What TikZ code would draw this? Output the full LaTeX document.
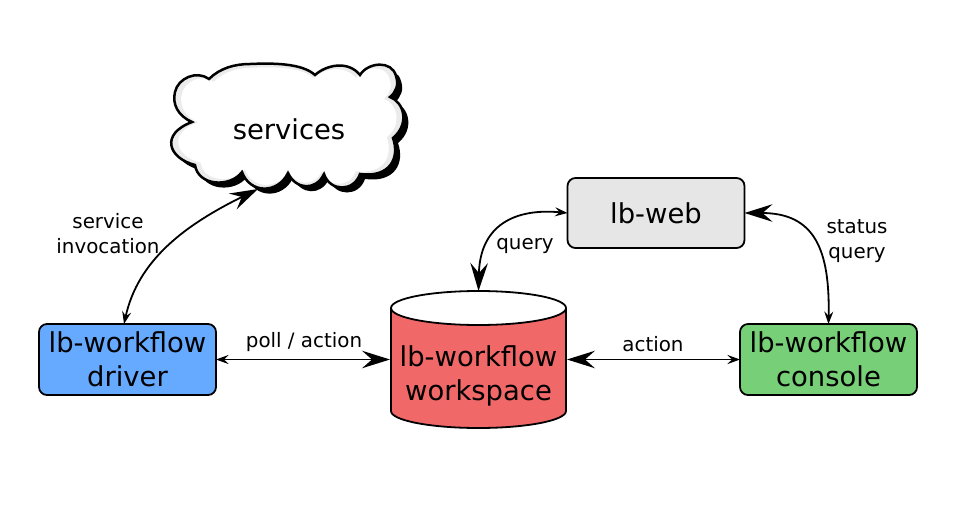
\documentclass[tikz,border=0pt]{standalone}
\usepackage{fontspec}
\setmainfont{DejaVu Sans}
\usetikzlibrary{arrows.meta}
\definecolor{drivercol}{HTML}{66AAFF}
\definecolor{workcol}{HTML}{F16868}
\definecolor{consolecol}{HTML}{77D077}
\definecolor{webcol}{HTML}{E6E6E6}
\definecolor{cloudcol}{HTML}{EBEBEB}
\newcommand{\cloudline}{(192,122) .. controls (178,116) and (172,104) .. (175,92)
	.. controls (178,78) and (197,70) .. (209,79)
	.. controls (220,68) and (235,64) .. (250,64)
	.. controls (272,63) and (302,63) .. (315,75)
	.. controls (326,65) and (348,60) .. (360,75)
	.. controls (368,62) and (392,60) .. (396,76)
	.. controls (399,85) and (396,92) .. (390,97)
	.. controls (404,102) and (410,124) .. (393,138)
	.. controls (400,158) and (390,178) .. (360,174)
	.. controls (354,192) and (330,192) .. (324,174)
	.. controls (316,191) and (296,190) .. (288,173)
	.. controls (278,194) and (250,194) .. (242,172)
	.. controls (230,188) and (198,186) .. (195,165)
	.. controls (168,158) and (160,134) .. (192,122) -- cycle}
\begin{document}
\begin{tikzpicture}[x=0.02cm,y=-0.02cm,
	box/.style={draw=black,line width=0.36mm,rounded corners=1.6mm,minimum width=35.4mm,outer sep=0pt,align=center,font=\fontsize{15.6}{19.5}\selectfont},
	lbl/.style={align=center,font=\fontsize{11.3}{14.3}\selectfont},
	link/.style={line width=0.36mm,{Stealth[length=2.5mm,width=1.8mm,inset=0.9mm]}-{Stealth[length=5.6mm,width=3.5mm,inset=2mm]}}]
	
	\useasboundingbox (0,0) rectangle (957,531);
	
	\fill[black,xshift=0.1cm,yshift=-0.1cm] \cloudline;
	\fill[cloudcol] \cloudline;
	\fill[white,shift={(289,126)},scale=0.94,shift={(-289,-126)}] \cloudline;
	\draw[line width=0.5mm] \cloudline;
	\node[font=\fontsize{15.6}{19}\selectfont] (services) at (289,129) {services};
	\coordinate (cloudfoot) at (258,189);
	
	\fill[workcol] (391,308) -- (391,411) arc[start angle=180,end angle=360,x radius=87.5,y radius=-17] -- (566,308) -- cycle;
	\draw[line width=0.36mm] (391,308) -- (391,411) arc[start angle=180,end angle=360,x radius=87.5,y radius=-17] -- (566,308);
	\draw[line width=0.36mm,fill=white] (478.5,308) ellipse[x radius=87.5,y radius=17];
	\node[minimum width=35.4mm,minimum height=27.4mm,outer sep=0pt] (workspace) at (478.5,359.5) {};
	\node[align=center,font=\fontsize{15.6}{19.5}\selectfont] (worktext) at (478.5,376) {lb-workflow\\workspace};
	
	\node[box,fill=drivercol,minimum height=14.2mm] (driver) at (127.5,359.5) {lb-workflow\\driver};
	\node[box,fill=consolecol,minimum height=14.2mm] (console) at (828.5,359.5) {lb-workflow\\console};
	\node[box,fill=webcol,minimum height=14mm] (web) at (656,213) {lb-web};
	
	\draw[link] (driver.east) -- (workspace.west);
	\draw[link] (console.west) -- (workspace.east);
	\draw[link] ([xshift=-0.7mm]driver.north) .. controls (138,260) and (185,225) .. (cloudfoot);
	\draw[link] (web.west) .. controls (515,208) and (480,225) .. (workspace.north);
	\draw[link] (console.north) .. controls (830,250) and (815,213) .. (web.east);
	
	\node[lbl] (invocationlbl) at (108,234) {service\\invocation};
	\node[lbl] (polllbl) at (304,342) {poll / action};
	\node[lbl] (actionlbl) at (653,344) {action};
	\node[lbl] (querylbl) at (525,246) {query};
	\node[lbl] (statuslbl) at (857,241) {status\\query};
	\end{tikzpicture}
\end{document}
